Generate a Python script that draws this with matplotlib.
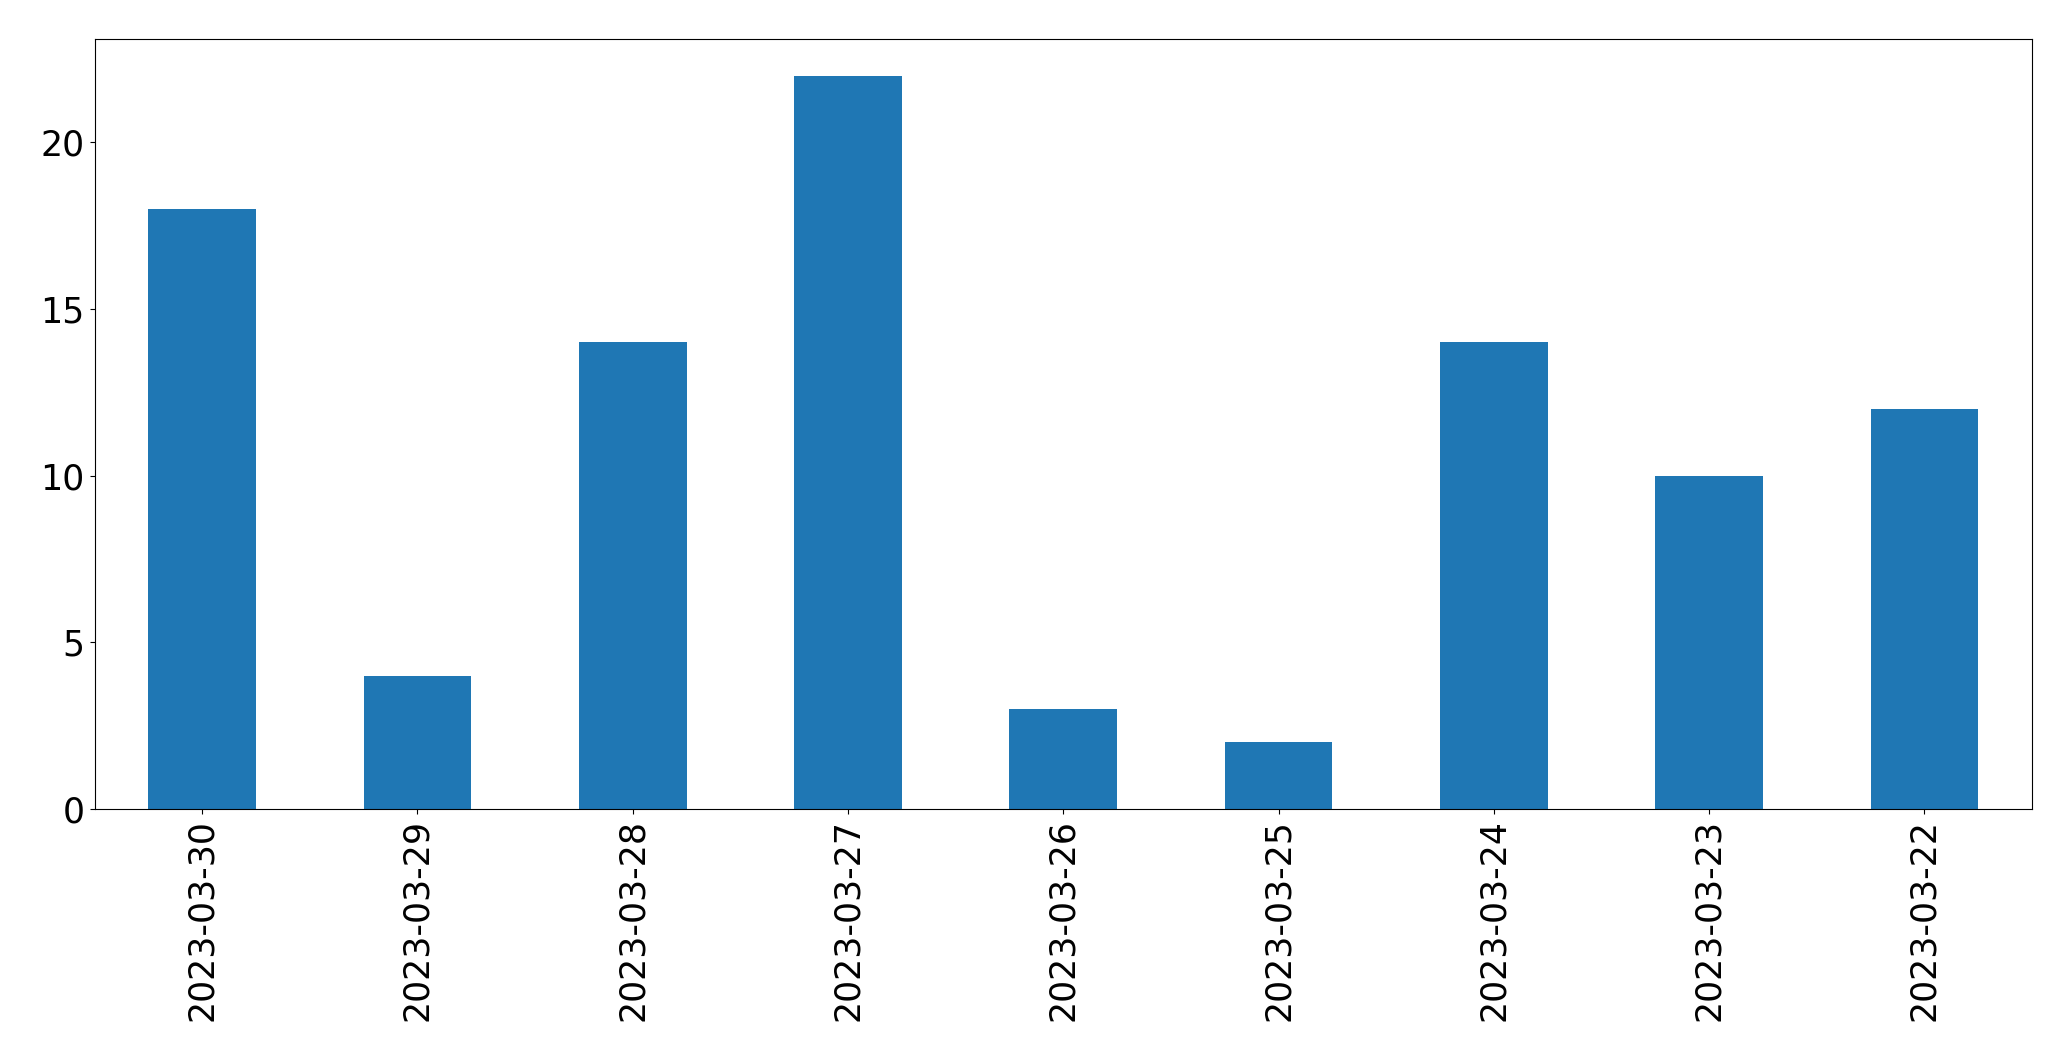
import matplotlib
matplotlib.use("Agg")
import matplotlib.pyplot as plt
import numpy as np

dates = ["2023-03-30", "2023-03-29", "2023-03-28", "2023-03-27", "2023-03-26",
         "2023-03-25", "2023-03-24", "2023-03-23", "2023-03-22"]
counts = [18, 4, 14, 22, 3, 2, 14, 10, 12]

fig = plt.figure(figsize=(20.71, 10.61), dpi=100)
ax = fig.add_axes([94.5 / 2071, 1 - 809 / 1061, (2032 - 94.5) / 2071, (809 - 39) / 1061])
x = np.arange(len(dates))
ax.bar(x, counts, width=0.5, color="#1f77b4")
ax.set_xlim(-0.5, len(dates) - 0.5)
ax.set_ylim(0, max(counts) * 1.05)
ax.set_xticks(x)
ax.set_xticklabels(dates, rotation=90)
ax.set_yticks([0, 5, 10, 15, 20])
ax.tick_params(labelsize=25)
fig.savefig("out.png", dpi=100)
